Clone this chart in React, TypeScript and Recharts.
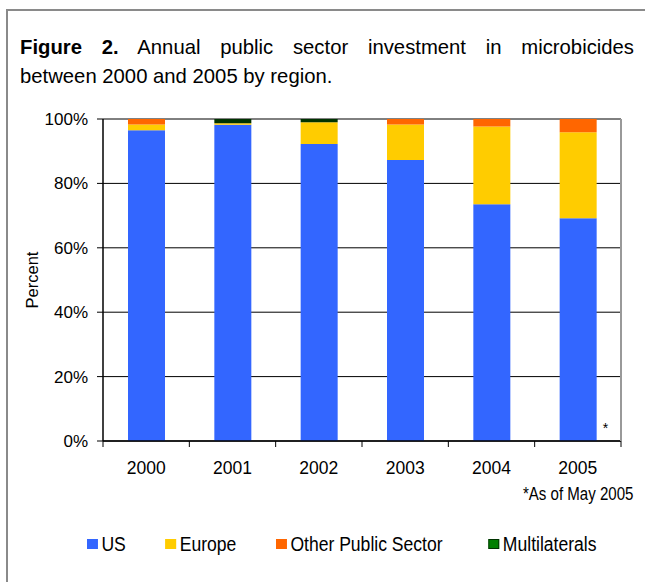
import { BarChart, Bar, XAxis, YAxis, CartesianGrid, LabelList } from 'recharts'

const YEARS = ['2000', '2001', '2002', '2003', '2004', '2005']
const US = [96.5, 98.2, 92.2, 87.3, 73.5, 69.2]
const EUROPE = [1.8, 0.5, 6.8, 11.0, 24.2, 26.7]
const OTHER = [1.7, 0, 0, 1.7, 2.3, 4.1]
const MULTI = [0, 1.3, 1.0, 0, 0, 0]
const NOTES = ['', '', '', '', '', '*']
const Y_TICKS = [0, 20, 40, 60, 80, 100]

const SERIES = [
  { key: 'us', name: 'US', color: '#3366FF', swatch: '#3366FF', border: '#3366FF' },
  { key: 'europe', name: 'Europe', color: '#FFCC00', swatch: '#FFCC00', border: '#FFCC00' },
  { key: 'other', name: 'Other Public Sector', color: '#FF6600', swatch: '#FF6600', border: '#FF6600' },
  { key: 'multi', name: 'Multilaterals', color: '#003300', swatch: '#008000', border: '#003300' },
]

const data = YEARS.map((year, i) => ({
  year,
  us: US[i],
  europe: EUROPE[i],
  other: OTHER[i],
  multi: MULTI[i],
  note: NOTES[i],
}))

const FONT = "'Liberation Sans', Arial, sans-serif"

// ticks sit on the band edges, not the centres
function YearTick(props: any) {
  const { x, y, payload, index, width, visibleTicksCount } = props
  const half = payload?.offset > 0 ? payload.offset : width / visibleTicksCount / 2
  return (
    <g>
      <line x1={x - half} x2={x - half} y1={y - 6} y2={y} stroke="#000" />
      {index === visibleTicksCount - 1 && (
        <line x1={x + half} x2={x + half} y1={y - 6} y2={y} stroke="#000" />
      )}
      <text x={x} y={y} dy={27} textAnchor="middle" fontSize={17.5} fill="#000" fontFamily={FONT}>
        {payload.value}
      </text>
    </g>
  )
}

function NoteLabel(props: any) {
  const { x, y, width, height, value } = props
  if (!value) return null
  return (
    <text x={x + width + 6} y={y + height - 8} fontSize={14} fill="#000" fontFamily={FONT}>
      {value}
    </text>
  )
}

export default function App() {
  return (
    <div style={{ position: 'absolute', left: 0, top: 0, width: 645, height: 582, background: '#fff', fontFamily: FONT, overflow: 'hidden' }}>
      {/* frame */}
      <div style={{ position: 'absolute', left: 6, top: 9, width: 700, height: 700, borderLeft: '2px solid #8a8a8a', borderTop: '2px solid #8a8a8a' }} />

      {/* caption, first line justified edge to edge */}
      <div style={{ position: 'absolute', left: 20, top: 33, width: 614, fontSize: 20.3, lineHeight: '29px', color: '#000' }}>
        <div style={{ textAlign: 'justify', textAlignLast: 'justify', whiteSpace: 'nowrap' }}>
          <b>Figure 2.</b> Annual public sector investment in microbicides
        </div>
        <div>between 2000 and 2005 by region.</div>
      </div>

      <div style={{ position: 'absolute', left: 0, top: 0 }}>
        <BarChart width={645} height={582} data={data} margin={{ top: 119, right: 0, bottom: 101, left: 0 }}>
          <CartesianGrid vertical={false} stroke="#000" />
          <XAxis
            dataKey="year"
            height={40}
            tickLine={false}
            tickSize={6}
            tickMargin={0}
            axisLine={{ stroke: '#000', strokeWidth: 1.5 }}
            tick={<YearTick />}
            interval={0}
          />
          <XAxis xAxisId="top" dataKey="year" orientation="top" height={0} tick={false} tickLine={false}
            axisLine={{ stroke: '#999', strokeWidth: 2 }} />
          <YAxis
            width={103}
            domain={[0, 100]}
            ticks={Y_TICKS}
            tickFormatter={(v: number) => `${v}%`}
            tickSize={6}
            tickMargin={9}
            tick={{ fontSize: 17, fill: '#000', fontFamily: FONT }}
            tickLine={{ stroke: '#000' }}
            axisLine={{ stroke: '#000', strokeWidth: 1.5 }}
            label={{ value: 'Percent', angle: -90, position: 'insideLeft', offset: 32, fontSize: 16.5, fill: '#000', fontFamily: FONT, style: { textAnchor: 'middle' } }}
          />
          <YAxis yAxisId="right" orientation="right" width={24} domain={[0, 100]} tick={false} tickLine={false}
            axisLine={{ stroke: '#999', strokeWidth: 2 }} />
          {SERIES.map((s) => (
            <Bar key={s.key} dataKey={s.key} name={s.name} stackId="a" fill={s.color} barSize={37} isAnimationActive={false}>
              {s.key === 'us' && <LabelList dataKey="note" content={<NoteLabel />} />}
            </Bar>
          ))}
        </BarChart>
      </div>

      {/* footnote */}
      <div
        style={{
          position: 'absolute', right: 12, top: 484, fontSize: 17.5, lineHeight: '20px', color: '#000',
          transform: 'scaleX(0.86)', transformOrigin: 'right top', whiteSpace: 'nowrap',
        }}
      >
        *As of May 2005
      </div>

      {/* legend */}
      <div
        style={{
          position: 'absolute', left: 87, top: 533, display: 'flex', alignItems: 'center', gap: 44,
          transform: 'scaleX(0.9)', transformOrigin: 'left top', whiteSpace: 'nowrap',
        }}
      >
        {SERIES.map((s, i) => (
          <div key={s.key} style={{ display: 'flex', alignItems: 'center', gap: 4, marginLeft: i === SERIES.length - 1 ? 7 : 0 }}>
            <div style={{ width: 12, height: 10, background: s.swatch, border: `1px solid ${s.border}`, boxSizing: 'border-box' }} />
            <span style={{ fontSize: 19.5, lineHeight: '22px', color: '#000' }}>{s.name}</span>
          </div>
        ))}
      </div>
    </div>
  )
}
